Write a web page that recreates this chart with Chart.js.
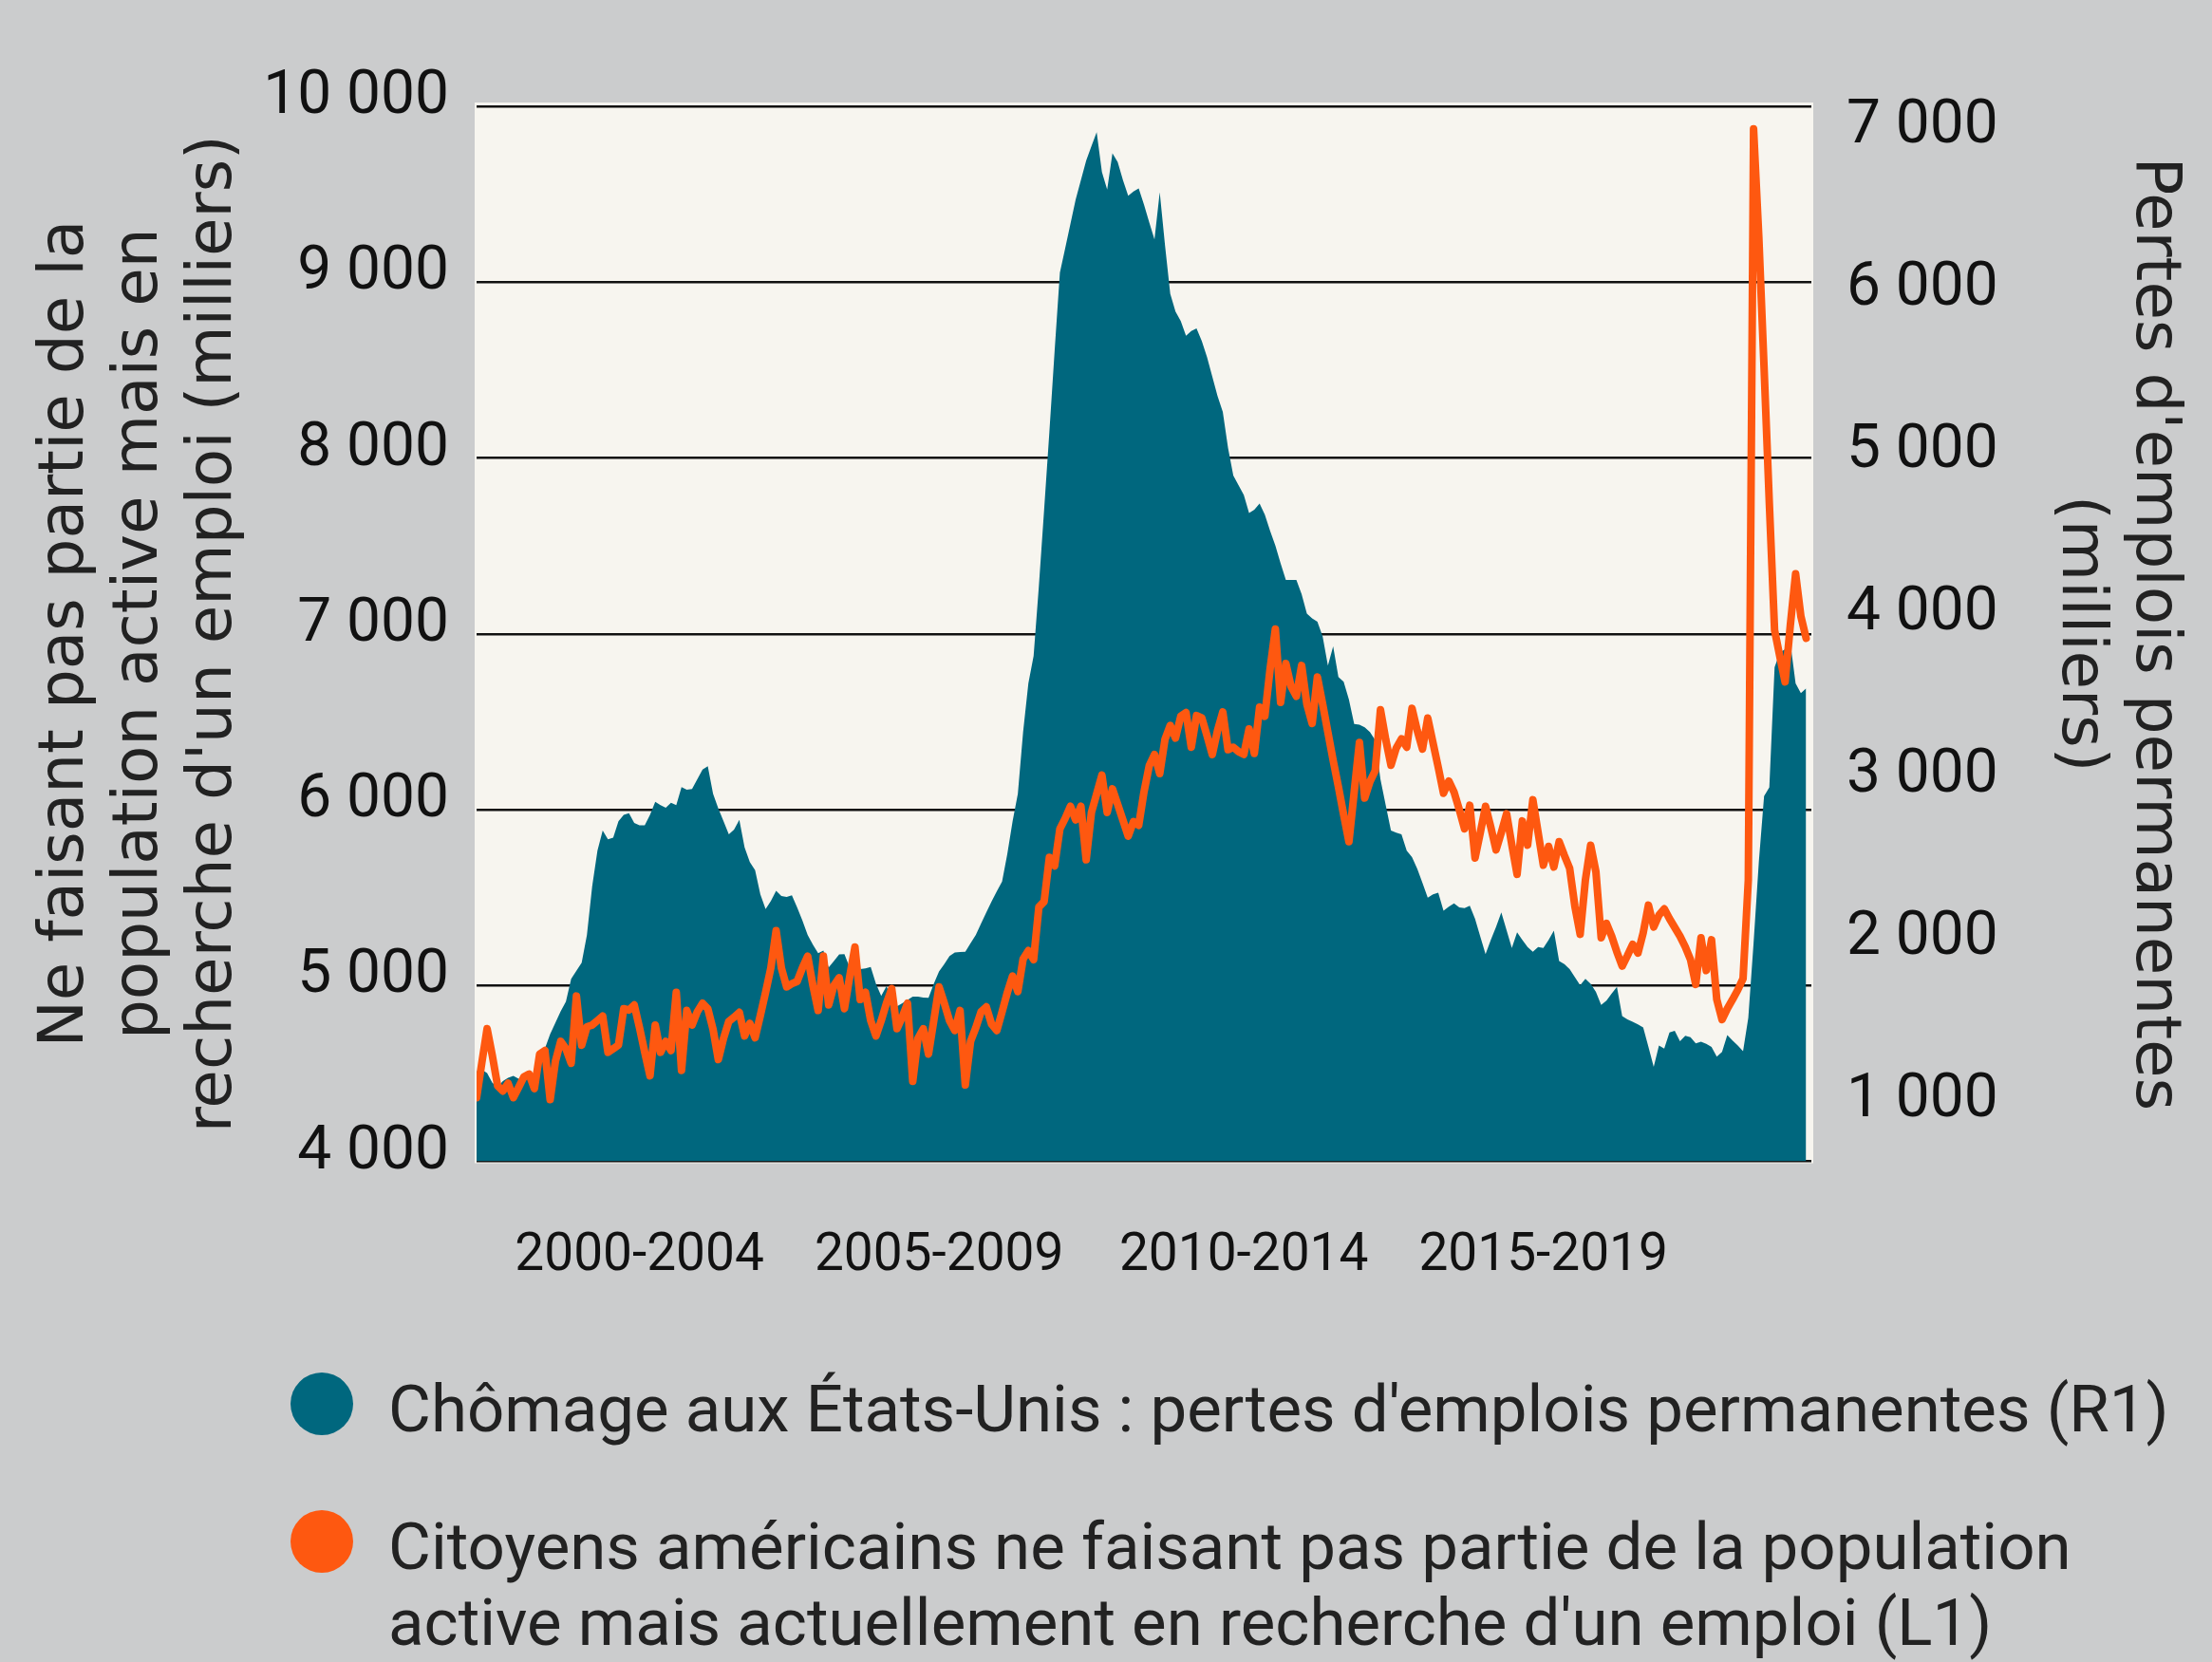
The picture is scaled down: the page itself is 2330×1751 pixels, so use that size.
<!DOCTYPE html>
<html>
<head>
<meta charset="utf-8">
<script src="https://cdn.jsdelivr.net/npm/chart.js@4.4.1/dist/chart.umd.min.js"></script>
<style>
  html, body { margin: 0; padding: 0; background: #cbcccd; overflow: hidden; }
  #wrap { position: relative; width: 2330px; height: 1751px; }
  #chart { position: absolute; left: 0; top: 0; }
  #legend { position: absolute; left: 0; top: 0; font-family: Roboto, "Liberation Sans", sans-serif; font-size: 69px; line-height: 80px; color: #222; }
  .dot { position: absolute; width: 66px; height: 66px; border-radius: 50%; }
  .txt { position: absolute; }
</style>
</head>
<body>
<div id="wrap">
  <canvas id="chart" width="2330" height="1751"></canvas>
  <div id="legend"></div>
</div>
<script>
// monthly, Jan 2000 - Feb 2021
const months = [];
for (let y = 2000; y <= 2021; y++) {
  for (let m = 1; m <= 12; m++) {
    if (y === 2021 && m > 2) break;
    months.push(y + "-" + String(m).padStart(2, "0"));
  }
}

// permanent job losers, thousands (right axis)
const jobLosers = [
  1160, 1170, 1150, 1090, 1065, 1100, 1120, 1132, 1115, 1100, 1120, 1042,
  1180, 1300, 1390, 1460, 1530, 1590, 1730, 1780, 1830, 2000, 2300, 2520,
  2643, 2590, 2600, 2700, 2740, 2750, 2690, 2676, 2676, 2740, 2820, 2800,
  2784, 2815, 2800, 2911, 2895, 2900, 2960, 3020, 3040, 2870, 2780, 2700,
  2620, 2650, 2710, 2540, 2450, 2400, 2250, 2160, 2210, 2273, 2240, 2235,
  2244, 2170, 2090, 2000, 1940, 1888, 1904, 1800, 1840, 1880, 1882, 1800,
  1775, 1790, 1795, 1803, 1700, 1625, 1685, 1610, 1560, 1580, 1600, 1620,
  1620, 1615, 1613, 1700, 1775, 1820, 1870, 1893, 1895, 1897, 1950, 2000,
  2070, 2140, 2206, 2270, 2330, 2500, 2700, 2870, 3250, 3550, 3720, 4150,
  4620, 5100, 5600, 6080, 6230, 6380, 6530, 6650, 6770, 6860, 6946, 6700,
  6592, 6816, 6762, 6650, 6554, 6580, 6599, 6500, 6390, 6285, 6576, 6250,
  5950, 5840, 5782, 5692, 5720, 5737, 5660, 5560, 5440, 5320, 5222, 5000,
  4830, 4770, 4710, 4600, 4620, 4658, 4590, 4490, 4400, 4290, 4188, 4188,
  4188, 4100, 3980, 3950, 3930, 3840, 3660, 3778, 3590, 3560, 3450, 3300,
  3295, 3280, 3250, 3200, 2960, 2800, 2643, 2630, 2620, 2520, 2480, 2408,
  2320, 2230, 2250, 2260, 2150, 2175, 2195, 2170, 2165, 2180, 2100, 1990,
  1882, 1970, 2050, 2139, 2030, 1920, 2016, 1970, 1926, 1897, 1926, 1920,
  1970, 2027, 1840, 1820, 1790, 1740, 1691, 1730, 1700, 1650, 1570, 1595,
  1640, 1680, 1500, 1480, 1465, 1450, 1430, 1310, 1188, 1320, 1300, 1400,
  1410, 1345, 1380, 1370, 1333, 1343, 1330, 1311, 1250, 1280, 1383, 1350,
  1320, 1284, 1490, 1950, 2450, 2855, 2910, 3650, 3740, 3760, 3800, 3550,
  3490, 3520
];

// not in labor force, want a job now, thousands (left axis)
const wantJob = [
  4362, 4560, 4754, 4600, 4430, 4400, 4444, 4362, 4420, 4480, 4496, 4413,
  4610, 4630, 4351, 4568, 4682, 4640, 4558, 4940, 4660, 4765, 4775, 4800,
  4826, 4620, 4640, 4661, 4868, 4860, 4889, 4760, 4620, 4486, 4775, 4620,
  4682, 4630, 4961, 4517, 4858, 4775, 4850, 4899, 4868, 4750, 4579, 4700,
  4796, 4820, 4847, 4713, 4785, 4703, 4830, 4961, 5100, 5312, 5100, 4992,
  5010, 5023, 5100, 5167, 5000, 4858, 5167, 4889, 5000, 5044, 4868, 5050,
  5219, 4920, 4961, 4800, 4713, 4800, 4900, 4982, 4754, 4820, 4899, 4455,
  4700, 4754, 4610, 4800, 4992, 4900, 4800, 4744, 4858, 4434, 4682, 4760,
  4850, 4878, 4780, 4744, 4850, 4960, 5054, 4965, 5150, 5198, 5147, 5446,
  5477, 5729, 5680, 5891, 5950, 6019, 5942, 6019, 5715, 5984, 6090, 6196,
  5984, 6118, 6030, 5940, 5849, 5932, 5911, 6100, 6250, 6314, 6205, 6400,
  6479, 6407, 6531, 6552, 6355, 6535, 6521, 6420, 6314, 6450, 6556, 6341,
  6355, 6330, 6314, 6459, 6320, 6583, 6531, 6800, 7027, 6610, 6831, 6700,
  6645, 6820, 6600, 6490, 6754, 6600, 6440, 6280, 6130, 5970, 5818, 6100,
  6382, 6066, 6159, 6221, 6568, 6400, 6252, 6350, 6403, 6355, 6576, 6450,
  6345, 6521, 6380, 6240, 6093, 6163, 6100, 6000, 5891, 6025, 5725, 5870,
  6019, 5900, 5771, 5870, 5977, 5800, 5632, 5936, 5798, 6056, 5870, 5684,
  5791, 5674, 5818, 5740, 5667, 5450, 5291, 5600, 5798, 5647, 5271, 5353,
  5280, 5190, 5110, 5170, 5234, 5184, 5300, 5457, 5333, 5400, 5436, 5380,
  5330, 5280, 5220, 5147, 5006, 5271, 5085, 5260, 4920, 4806, 4868, 4920,
  4975, 5039, 5600, 9872, 9256, 8512, 7742, 7020, 6870, 6727, 7050, 7341,
  7100, 6975
];

const leftTicks = [4000, 5000, 6000, 7000, 8000, 9000, 10000];
const rightTicks = [1000, 2000, 3000, 4000, 5000, 6000, 7000];
const periodLabels = ["2000-2004", "2005-2009", "2010-2014", "2015-2019"];
const periodTickMonths = ["2002-08", "2007-05", "2012-03", "2016-12"];

const TEAL = "#00677e";
const ORANGE = "#fe5810";
const TICK_FONT = "Roboto, 'Liberation Sans', sans-serif";
const TITLE_FONT = "'DejaVu Sans', sans-serif";

function fmt(v) {
  return String(v).replace(/\B(?=(\d{3})+(?!\d))/g, " ");
}

const plotBg = {
  id: "plotBg",
  beforeDraw(chart) {
    const { ctx, chartArea: a } = chart;
    ctx.save();
    ctx.fillStyle = "#f7f5ef";
    ctx.fillRect(a.left - 2, a.top - 4, a.right - a.left + 4, a.bottom - a.top + 6);
    ctx.restore();
  },
};

const datasets = [
  {
    label: "Chômage aux États-Unis : pertes d'emplois permanentes (R1)",
    data: jobLosers.map((v, i) => ({ x: i, y: v })),
    yAxisID: "y1",
    backgroundColor: TEAL,
    borderWidth: 0,
    pointRadius: 0,
    fill: "start",
    order: 1,
  },
  {
    label: "Citoyens américains ne faisant pas partie de la population active mais actuellement en recherche d'un emploi (L1)",
    data: wantJob.map((v, i) => ({ x: i, y: v })),
    yAxisID: "y",
    borderColor: ORANGE,
    backgroundColor: ORANGE,
    borderWidth: 8,
    borderJoinStyle: "round",
    borderCapStyle: "round",
    pointRadius: 0,
    fill: false,
    order: 0,
  },
];

const chart = new Chart(document.getElementById("chart"), {
  type: "line",
  data: { datasets },
  plugins: [plotBg],
  options: {
    responsive: false,
    animation: false,
    devicePixelRatio: 1,
    layout: { padding: { top: 112, left: 0, right: 0, bottom: 0 } },
    plugins: { legend: { display: false }, tooltip: { enabled: false } },
    scales: {
      x: {
        type: "linear",
        min: 0,
        max: months.length,
        grid: { display: false },
        border: { display: false },
        afterBuildTicks: (s) => {
          s.ticks = periodTickMonths.map((m) => ({ value: months.indexOf(m) }));
        },
        ticks: {
          autoSkip: false,
          maxRotation: 0,
          padding: 60,
          color: "#111",
          font: { family: TICK_FONT, size: 55 },
          callback: (v, i) => periodLabels[i],
        },
        afterFit: (s) => { s.height = 527.5; },
      },
      y: {
        position: "left",
        min: 4000,
        max: 10000,
        afterBuildTicks: (s) => { s.ticks = leftTicks.map((v) => ({ value: v })); },
        grid: { color: "#111", lineWidth: 2.5, drawTicks: false },
        border: { display: false },
        ticks: {
          padding: 29,
          labelOffset: -9,
          color: "#111",
          font: { family: TICK_FONT, size: 64 },
          callback: fmt,
        },
        title: {
          display: true,
          text: ["Ne faisant pas partie de la", "population active mais en", "recherche d'un emploi (milliers)"],
          color: "#222",
          font: { family: TITLE_FONT, size: 66, lineHeight: 1.18 },
          padding: { top: 31, bottom: 0 },
        },
        afterFit: (s) => { s.width = 502; },
      },
      y1: {
        position: "right",
        min: 606,
        max: 7105,
        afterBuildTicks: (s) => { s.ticks = rightTicks.map((v) => ({ value: v })); },
        grid: { display: false, drawTicks: false },
        border: { display: false },
        ticks: {
          padding: 37,
          labelOffset: 4,
          color: "#111",
          font: { family: TICK_FONT, size: 64 },
          callback: fmt,
        },
        title: {
          display: true,
          text: ["Pertes d'emplois permanentes", "(milliers)"],
          color: "#222",
          font: { family: TITLE_FONT, size: 66, lineHeight: 1.18 },
          padding: { top: 23, bottom: 0 },
        },
        afterFit: (s) => { s.width = 422; },
      },
    },
  },
});

// html legend, teal first
const legend = document.getElementById("legend");
const legendRows = [
  { ds: datasets[0], dotTop: 1446, txtTop: 1445, width: null },
  { ds: datasets[1], dotTop: 1591, txtTop: 1590, width: 1850 },
];
legendRows.forEach((r) => {
  const dot = document.createElement("div");
  dot.className = "dot";
  dot.style.left = "306px";
  dot.style.top = r.dotTop + "px";
  dot.style.background = r.ds.backgroundColor;
  legend.appendChild(dot);
  const txt = document.createElement("div");
  txt.className = "txt";
  txt.style.left = "409px";
  txt.style.top = r.txtTop + "px";
  if (r.width) {
    txt.style.width = r.width + "px";
  } else {
    txt.style.whiteSpace = "nowrap";
  }
  txt.textContent = r.ds.label;
  legend.appendChild(txt);
});
</script>
</body>
</html>
